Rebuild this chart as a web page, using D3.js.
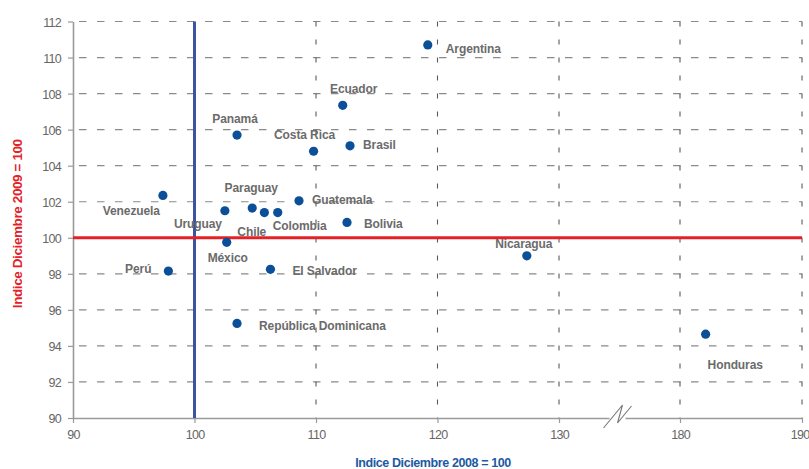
<!DOCTYPE html>
<html>
<head>
<meta charset="utf-8">
<script src="https://cdn.jsdelivr.net/npm/d3@7"></script>
<style>
  html, body { margin: 0; padding: 0; background: #fff; }
  svg { display: block; }
  .tick text { font-family: "Liberation Sans", sans-serif; font-size: 12.5px; fill: #666; letter-spacing: -0.7px; }
  .lbl { font-family: "Liberation Sans", sans-serif; font-weight: bold; font-size: 12px; fill: #6b6b6b; letter-spacing: -0.1px; }
  .ttl { font-family: "Liberation Sans", sans-serif; font-weight: bold; font-size: 12.5px; letter-spacing: -0.4px; }
</style>
</head>
<body>
<div id="vis"></div>
<script>
// data
const PAISES = ["Argentina", "Ecuador", "Panamá", "Costa Rica", "Brasil", "Venezuela",
  "Paraguay", "Uruguay", "Chile", "Colombia", "Guatemala", "Bolivia", "México", "Perú",
  "El Salvador", "República Dominicana", "Nicaragua", "Honduras"];
const DIC_2008 = [119.2, 112.2, 103.5, 109.8, 112.8, 97.4, 104.75, 102.5, 105.75, 106.85,
  108.6, 112.55, 102.65, 97.85, 106.25, 103.5, 127.35, 182.1];
const DIC_2009 = [110.7, 107.35, 105.7, 104.8, 105.1, 102.35, 101.65, 101.5, 101.4, 101.4,
  102.05, 100.85, 99.75, 98.15, 98.25, 95.25, 99.0, 94.65];
const X_TICKS = [90, 100, 110, 120, 130, 180, 190];
const Y_TICKS = [90, 92, 94, 96, 98, 100, 102, 104, 106, 108, 110, 112];

// label placement relative to each dot: [dx, dy, anchor]
const LABEL_POS = [
  [18, 8, "start"], [11, -12, "middle"], [-2, -12, "middle"], [-9, -12, "middle"],
  [13, 3, "start"], [-3, 20, "end"], [-1, -16, "middle"], [-3, 17, "end"],
  [-27, 23, "start"], [-5, 17, "start"], [13, 3, "start"], [17, 6, "start"],
  [1, 20, "middle"], [-17, 2, "end"], [22, 6, "start"], [22, 7, "start"],
  [-3, -8, "middle"], [2, 35, "start"]
];

const WIDTH = 809;
const HEIGHT = 469;

const LEFT = 73, RIGHT = 802, TOP = 21.5, BOTTOM = 418;

// broken x axis: 130 -> 180 squeezed into one interval
const x = d3.scaleLinear([90, 130, 180, 190], [LEFT, 559, 680, RIGHT]);
const y = d3.scaleLinear([90, 112], [BOTTOM, TOP]);

const svg = d3.select("#vis")
  .append("svg")
    .attr("width", WIDTH)
    .attr("height", HEIGHT);

// grid
svg.append("g")
  .selectAll("line")
  .data(Y_TICKS.filter(d => d !== 90 && d !== 100))
  .enter()
  .append("line")
    .attr("x1", LEFT).attr("x2", RIGHT)
    .attr("y1", d => y(d)).attr("y2", d => y(d))
    .attr("stroke", "#8a8a8a")
    .attr("stroke-width", 1.2)
    .attr("stroke-dasharray", "7.5,10.5")
    .attr("stroke-dashoffset", -6);

svg.append("g")
  .selectAll("line")
  .data(X_TICKS.filter(d => d > 100))
  .enter()
  .append("line")
    .attr("x1", d => x(d)).attr("x2", d => x(d))
    .attr("y1", TOP).attr("y2", BOTTOM)
    .attr("stroke", "#5a5a5a")
    .attr("stroke-width", 1.1)
    .attr("stroke-dasharray", "5,13");

// axes
const xAxis = d3.axisBottom(x).tickValues(X_TICKS).tickSizeInner(5).tickSizeOuter(0).tickPadding(7);
const yAxis = d3.axisLeft(y).tickValues(Y_TICKS).tickSizeInner(5).tickSizeOuter(0).tickPadding(7);

const gx = svg.append("g")
  .attr("transform", `translate(0, ${BOTTOM})`)
  .call(xAxis);
gx.select(".domain").attr("stroke", "#9a9a9a").attr("stroke-width", 1.6);
gx.selectAll(".tick line").attr("stroke", "#9a9a9a").attr("stroke-width", 1.2);
gx.selectAll(".tick text").filter(d => d === 190).attr("text-anchor", "end").attr("dx", 7);

const gy = svg.append("g")
  .attr("transform", `translate(${LEFT}, 0)`)
  .call(yAxis);
gy.select(".domain").attr("stroke", "#9a9a9a").attr("stroke-width", 1.6);
gy.selectAll(".tick line").attr("stroke", "#9a9a9a").attr("stroke-width", 1.2);
gy.selectAll(".tick text").attr("dy", "0.36em");

// axis break mark
const bx = (x(130) + x(180)) / 2 - 6;
svg.append("rect")
  .attr("x", bx - 4).attr("y", BOTTOM - 2)
  .attr("width", 16).attr("height", 4)
  .attr("fill", "#fff");
svg.append("path")
  .attr("d", `M${bx - 10},${BOTTOM + 10} L${bx + 9},${BOTTOM - 13} L${bx + 4},${BOTTOM + 5} L${bx + 18},${BOTTOM - 12}`)
  .attr("fill", "none")
  .attr("stroke", "#777")
  .attr("stroke-width", 1.1);

// reference lines at 100
svg.append("line")
  .attr("x1", x(100)).attr("x2", x(100))
  .attr("y1", TOP).attr("y2", BOTTOM)
  .attr("stroke", "#3d52a1")
  .attr("stroke-width", 3);

svg.append("line")
  .attr("x1", LEFT).attr("x2", RIGHT)
  .attr("y1", y(100)).attr("y2", y(100))
  .attr("stroke", "#e42127")
  .attr("stroke-width", 3);

// points
svg.append("g")
  .selectAll("circle")
  .data(PAISES)
  .enter()
  .append("circle")
    .attr("cx", (d, i) => x(DIC_2008[i]))
    .attr("cy", (d, i) => y(DIC_2009[i]))
    .attr("r", 4.6)
    .attr("fill", "#0b4f98");

svg.append("g")
  .selectAll("text")
  .data(PAISES)
  .enter()
  .append("text")
    .attr("class", "lbl")
    .attr("x", (d, i) => x(DIC_2008[i]) + LABEL_POS[i][0])
    .attr("y", (d, i) => y(DIC_2009[i]) + LABEL_POS[i][1])
    .attr("text-anchor", (d, i) => LABEL_POS[i][2])
    .text(d => d);

// titles
svg.append("text")
  .attr("class", "ttl")
  .attr("transform", `translate(22, ${(TOP + BOTTOM) / 2 + 4}) rotate(-90)`)
  .attr("text-anchor", "middle")
  .attr("fill", "#e42127")
  .style("font-size", "13.5px")
  .text("Indice Diciembre 2009 = 100");

svg.append("text")
  .attr("class", "ttl")
  .attr("x", 433)
  .attr("y", 467)
  .attr("text-anchor", "middle")
  .attr("fill", "#1c5aa3")
  .text("Indice Diciembre 2008 = 100");
</script>
</body>
</html>
